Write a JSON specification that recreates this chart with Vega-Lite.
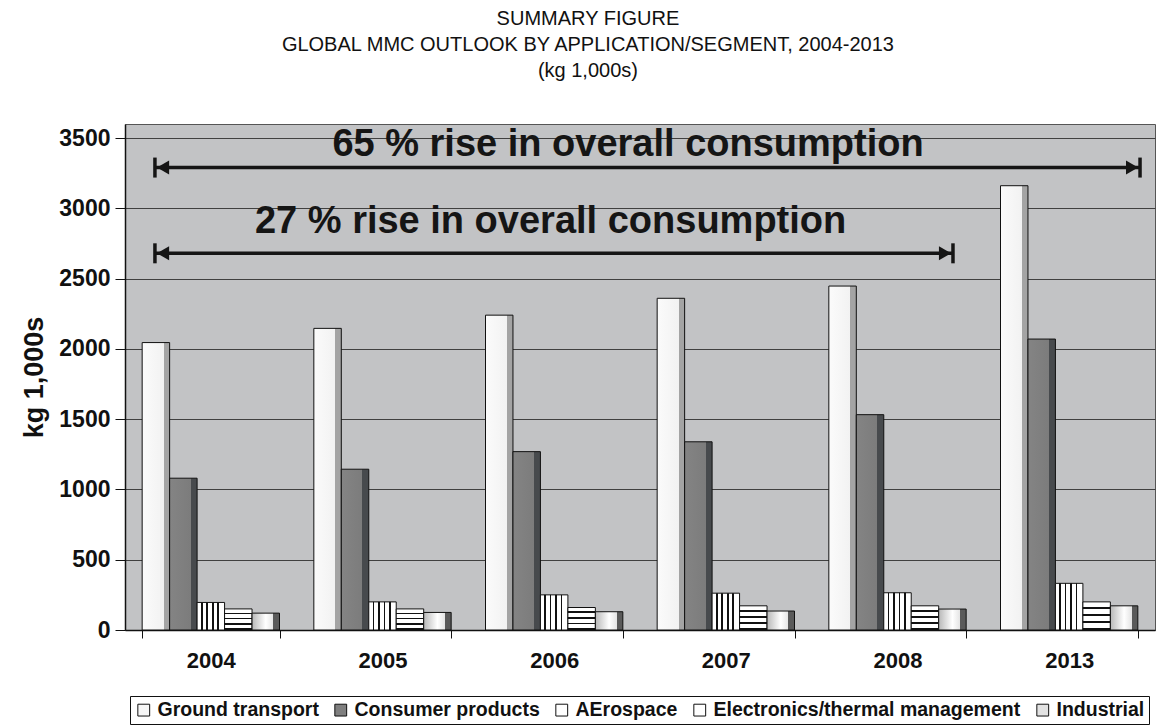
{
  "$schema": "https://vega.github.io/schema/vega-lite/v6.json",
  "width": 1030,
  "height": 506,
  "autosize": {"type": "none"},
  "padding": {"left": 125, "top": 124, "right": 13, "bottom": 98},
  "background": "#ffffff",
  "title": {
    "text": ["SUMMARY FIGURE", "GLOBAL MMC OUTLOOK BY APPLICATION/SEGMENT, 2004-2013", "(kg 1,000s)"],
    "font": "Liberation Sans",
    "fontSize": 20,
    "fontWeight": "normal",
    "color": "#111111",
    "lineHeight": 26,
    "anchor": "middle",
    "frame": "bounds",
    "offset": 43
  },
  "datasets": {
    "mmc": [
      {"year": "2004", "segment": "Ground transport", "value": 2045},
      {"year": "2004", "segment": "Consumer products", "value": 1080},
      {"year": "2004", "segment": "AErospace", "value": 196},
      {"year": "2004", "segment": "Electronics/thermal management", "value": 150},
      {"year": "2004", "segment": "Industrial", "value": 120},
      {"year": "2005", "segment": "Ground transport", "value": 2146},
      {"year": "2005", "segment": "Consumer products", "value": 1144},
      {"year": "2005", "segment": "AErospace", "value": 200},
      {"year": "2005", "segment": "Electronics/thermal management", "value": 150},
      {"year": "2005", "segment": "Industrial", "value": 125},
      {"year": "2006", "segment": "Ground transport", "value": 2240},
      {"year": "2006", "segment": "Consumer products", "value": 1269},
      {"year": "2006", "segment": "AErospace", "value": 250},
      {"year": "2006", "segment": "Electronics/thermal management", "value": 160},
      {"year": "2006", "segment": "Industrial", "value": 130},
      {"year": "2007", "segment": "Ground transport", "value": 2360},
      {"year": "2007", "segment": "Consumer products", "value": 1339},
      {"year": "2007", "segment": "AErospace", "value": 262},
      {"year": "2007", "segment": "Electronics/thermal management", "value": 172},
      {"year": "2007", "segment": "Industrial", "value": 135},
      {"year": "2008", "segment": "Ground transport", "value": 2447},
      {"year": "2008", "segment": "Consumer products", "value": 1532},
      {"year": "2008", "segment": "AErospace", "value": 265},
      {"year": "2008", "segment": "Electronics/thermal management", "value": 172},
      {"year": "2008", "segment": "Industrial", "value": 149},
      {"year": "2013", "segment": "Ground transport", "value": 3161},
      {"year": "2013", "segment": "Consumer products", "value": 2070},
      {"year": "2013", "segment": "AErospace", "value": 332},
      {"year": "2013", "segment": "Electronics/thermal management", "value": 200},
      {"year": "2013", "segment": "Industrial", "value": 172}
    ],
    "arrows": [
      {"label": "65 % rise in overall consumption", "start": "2004", "end": "2013", "level": 3290, "textLevel": 3450},
      {"label": "27 % rise in overall consumption", "start": "2004", "end": "2008", "level": 2680, "textLevel": 2900}
    ]
  },
  "layer": [
    {
      "data": {"name": "mmc"},
      "mark": {"type": "bar", "stroke": "#111111", "strokeWidth": 1},
      "encoding": {
        "x": {
          "field": "year",
          "type": "nominal",
          "sort": ["2004", "2005", "2006", "2007", "2008", "2013"],
          "scale": {"paddingInner": 0.2, "paddingOuter": 0.1},
          "axis": {
            "title": null,
            "labelAngle": 0,
            "labelFontSize": 22,
            "labelFontWeight": "bold",
            "labelColor": "#111111",
            "labelPadding": 12,
            "tickBand": "extent",
            "tickSize": 8,
            "tickColor": "#111111",
            "domainColor": "#111111",
            "domainWidth": 1.5,
            "grid": false
          }
        },
        "xOffset": {
          "field": "segment",
          "type": "nominal",
          "sort": ["Ground transport", "Consumer products", "AErospace", "Electronics/thermal management", "Industrial"],
          "scale": {"paddingInner": 0, "paddingOuter": 0}
        },
        "y": {
          "field": "value",
          "type": "quantitative",
          "scale": {"domain": [0, 3600], "nice": false},
          "axis": {
            "title": "kg 1,000s",
            "titleFontSize": 27,
            "titleFontWeight": "bold",
            "titleColor": "#111111",
            "titlePadding": 10,
            "values": [0, 500, 1000, 1500, 2000, 2500, 3000, 3500],
            "format": "d",
            "labelFontSize": 23,
            "labelFontWeight": "bold",
            "labelColor": "#111111",
            "labelPadding": 5,
            "tickSize": 10,
            "tickColor": "#111111",
            "domainColor": "#111111",
            "domainWidth": 1.5,
            "grid": true,
            "gridColor": "#404040",
            "gridWidth": 1.2
          }
        },
        "color": {
          "condition": [
            {
              "test": "datum.segment === 'Ground transport'",
              "value": {"gradient": "linear", "x1": 0, "y1": 0, "x2": 1, "y2": 0, "stops": [
                {"offset": 0, "color": "#fbfbfb"}, {"offset": 0.78, "color": "#f2f2f2"},
                {"offset": 0.78, "color": "#a4a4a4"}, {"offset": 1, "color": "#a4a4a4"}
              ]}
            },
            {
              "test": "datum.segment === 'Consumer products'",
              "value": {"gradient": "linear", "x1": 0, "y1": 0, "x2": 1, "y2": 0, "stops": [
                {"offset": 0, "color": "#848484"}, {"offset": 0.76, "color": "#7c7c7c"},
                {"offset": 0.76, "color": "#474a4d"}, {"offset": 1, "color": "#474a4d"}
              ]}
            },
            {
              "test": "datum.segment === 'AErospace'",
              "value": {"gradient": "linear", "x1": 0, "y1": 0, "x2": 1, "y2": 0, "stops": [
                {"offset": 0, "color": "#ffffff"}, {"offset": 0.14, "color": "#ffffff"},
                {"offset": 0.14, "color": "#111111"}, {"offset": 0.2, "color": "#111111"},
                {"offset": 0.2, "color": "#ffffff"}, {"offset": 0.34, "color": "#ffffff"},
                {"offset": 0.34, "color": "#111111"}, {"offset": 0.4, "color": "#111111"},
                {"offset": 0.4, "color": "#ffffff"}, {"offset": 0.54, "color": "#ffffff"},
                {"offset": 0.54, "color": "#111111"}, {"offset": 0.6, "color": "#111111"},
                {"offset": 0.6, "color": "#ffffff"}, {"offset": 0.74, "color": "#ffffff"},
                {"offset": 0.74, "color": "#111111"}, {"offset": 0.8, "color": "#111111"},
                {"offset": 0.8, "color": "#ffffff"}, {"offset": 1, "color": "#ffffff"}
              ]}
            },
            {
              "test": "datum.segment === 'Electronics/thermal management'",
              "value": {"gradient": "linear", "x1": 0, "y1": 0, "x2": 0, "y2": 1, "stops": [
                {"offset": 0, "color": "#ffffff"}, {"offset": 0.17, "color": "#ffffff"},
                {"offset": 0.17, "color": "#111111"}, {"offset": 0.25, "color": "#111111"},
                {"offset": 0.25, "color": "#ffffff"}, {"offset": 0.42, "color": "#ffffff"},
                {"offset": 0.42, "color": "#111111"}, {"offset": 0.5, "color": "#111111"},
                {"offset": 0.5, "color": "#ffffff"}, {"offset": 0.67, "color": "#ffffff"},
                {"offset": 0.67, "color": "#111111"}, {"offset": 0.75, "color": "#111111"},
                {"offset": 0.75, "color": "#ffffff"}, {"offset": 0.92, "color": "#ffffff"},
                {"offset": 0.92, "color": "#111111"}, {"offset": 1, "color": "#111111"}
              ]}
            },
            {
              "test": "datum.segment === 'Industrial'",
              "value": {"gradient": "linear", "x1": 0, "y1": 0, "x2": 1, "y2": 0, "stops": [
                {"offset": 0, "color": "#b8b8b8"},
                {"offset": 0.5, "color": "#ffffff"},
                {"offset": 0.78, "color": "#e4e4e4"},
                {"offset": 0.78, "color": "#5a5a5a"},
                {"offset": 1, "color": "#5a5a5a"}
              ]}
            }
          ],
          "field": "segment",
          "type": "nominal",
          "scale": {
            "domain": ["Ground transport", "Consumer products", "AErospace", "Electronics/thermal management", "Industrial"],
            "range": ["#f7f7f7", "#7f7f7f", "#ffffff", "#ffffff", "#e2e2e2"]
          },
          "legend": {
            "title": null,
            "orient": "none",
            "legendX": 5,
            "legendY": 572,
            "direction": "horizontal",
            "symbolType": "square",
            "symbolSize": 140,
            "symbolStrokeColor": "#111111",
            "symbolStrokeWidth": 1,
            "labelFont": "Liberation Sans",
            "labelFontSize": 19.5,
            "labelFontWeight": "bold",
            "labelColor": "#111111",
            "labelOffset": 4,
            "labelLimit": 400,
            "columnPadding": 12,
            "padding": 4,
            "strokeColor": "#111111",
            "fillColor": "#ffffff"
          }
        }
      }
    },
    {
      "data": {"name": "arrows"},
      "transform": [{"filter": "datum.end === '2013'"}],
      "layer": [
        {
          "mark": {"type": "rule", "color": "#151515", "strokeWidth": 3.5},
          "encoding": {
            "x": {"field": "start", "type": "nominal", "bandPosition": 0.093},
            "x2": {"field": "end", "bandPosition": 1.016},
            "y": {"field": "level", "type": "quantitative"}
          }
        },
        {
          "mark": {"type": "point", "shape": "M0,-1L0,1", "size": 400, "filled": false, "stroke": "#151515", "strokeWidth": 3.5, "opacity": 1},
          "encoding": {
            "x": {"field": "start", "type": "nominal", "bandPosition": 0.093},
            "y": {"field": "level", "type": "quantitative"}
          }
        },
        {
          "mark": {"type": "point", "shape": "triangle-left", "size": 196, "filled": true, "color": "#151515", "opacity": 1},
          "encoding": {
            "x": {"field": "start", "type": "nominal", "bandPosition": 0.152},
            "y": {"field": "level", "type": "quantitative"}
          }
        },
        {
          "mark": {"type": "point", "shape": "M0,-1L0,1", "size": 400, "filled": false, "stroke": "#151515", "strokeWidth": 3.5, "opacity": 1},
          "encoding": {
            "x": {"field": "end", "type": "nominal", "bandPosition": 1.016},
            "y": {"field": "level", "type": "quantitative"}
          }
        },
        {
          "mark": {"type": "point", "shape": "triangle-right", "size": 196, "filled": true, "color": "#151515", "opacity": 1},
          "encoding": {
            "x": {"field": "end", "type": "nominal", "bandPosition": 0.958},
            "y": {"field": "level", "type": "quantitative"}
          }
        },
        {
          "mark": {"type": "text", "font": "Liberation Sans", "fontSize": 38, "fontWeight": "bold", "color": "#151515", "align": "center", "baseline": "middle"},
          "encoding": {
            "x": {"datum": "2006", "bandPosition": 1.038},
            "y": {"field": "textLevel", "type": "quantitative"},
            "text": {"field": "label"}
          }
        }
      ]
    },
    {
      "data": {"name": "arrows"},
      "transform": [{"filter": "datum.end === '2008'"}],
      "layer": [
        {
          "mark": {"type": "rule", "color": "#151515", "strokeWidth": 3.5},
          "encoding": {
            "x": {"field": "start", "type": "nominal", "bandPosition": 0.093},
            "x2": {"field": "end", "bandPosition": 0.904},
            "y": {"field": "level", "type": "quantitative"}
          }
        },
        {
          "mark": {"type": "point", "shape": "M0,-1L0,1", "size": 400, "filled": false, "stroke": "#151515", "strokeWidth": 3.5, "opacity": 1},
          "encoding": {
            "x": {"field": "start", "type": "nominal", "bandPosition": 0.093},
            "y": {"field": "level", "type": "quantitative"}
          }
        },
        {
          "mark": {"type": "point", "shape": "triangle-left", "size": 196, "filled": true, "color": "#151515", "opacity": 1},
          "encoding": {
            "x": {"field": "start", "type": "nominal", "bandPosition": 0.152},
            "y": {"field": "level", "type": "quantitative"}
          }
        },
        {
          "mark": {"type": "point", "shape": "M0,-1L0,1", "size": 400, "filled": false, "stroke": "#151515", "strokeWidth": 3.5, "opacity": 1},
          "encoding": {
            "x": {"field": "end", "type": "nominal", "bandPosition": 0.904},
            "y": {"field": "level", "type": "quantitative"}
          }
        },
        {
          "mark": {"type": "point", "shape": "triangle-right", "size": 196, "filled": true, "color": "#151515", "opacity": 1},
          "encoding": {
            "x": {"field": "end", "type": "nominal", "bandPosition": 0.846},
            "y": {"field": "level", "type": "quantitative"}
          }
        },
        {
          "mark": {"type": "text", "font": "Liberation Sans", "fontSize": 38, "fontWeight": "bold", "color": "#151515", "align": "center", "baseline": "middle"},
          "encoding": {
            "x": {"datum": "2006", "bandPosition": 0.474},
            "y": {"field": "textLevel", "type": "quantitative"},
            "text": {"field": "label"}
          }
        }
      ]
    }
  ],
  "config": {
    "font": "Liberation Sans",
    "view": {"fill": "#c2c3c5", "stroke": "#555555", "strokeWidth": 1}
  }
}
